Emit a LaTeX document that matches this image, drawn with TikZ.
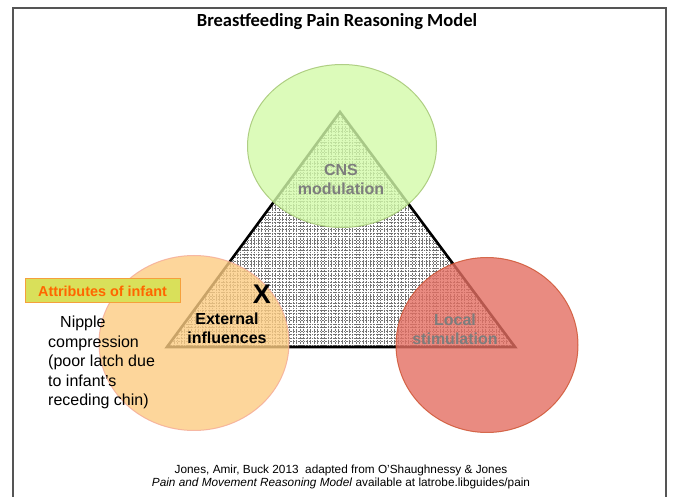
\documentclass[tikz,border=0pt]{standalone}
\usepackage{fontspec}
\setmainfont{Liberation Sans}
\newfontfamily\titlefont{Carlito}
\usetikzlibrary{shapes.geometric}
\definecolor{cnsfill}{RGB}{211,250,169}
\definecolor{cnsline}{RGB}{160,195,110}
\definecolor{extfill}{RGB}{252,204,130}
\definecolor{extline}{RGB}{245,170,150}
\definecolor{locfill}{RGB}{228,110,98}
\definecolor{locline}{RGB}{205,80,45}
\definecolor{attrfill}{RGB}{217,224,90}
\definecolor{attrline}{RGB}{245,160,60}
\definecolor{attrtext}{RGB}{255,102,0}
\definecolor{labelgray}{RGB}{125,125,125}
\definecolor{framegray}{RGB}{85,85,85}
\tikzset{
  gridline/.style={black!55, line width=0.3pt, dash pattern=on 0.6pt off 1pt},
  blob/.style={ellipse, inner sep=0pt, opacity=0.8},
  corner/.style={font=\bfseries\fontsize{16}{19}\selectfont, align=center, inner sep=0pt}
}
\begin{document}
\begin{tikzpicture}[x=1pt, y=-1pt]
            \useasboundingbox (0,0) rectangle (673,497);
            %frame and title
            \draw[framegray, line width=1.5pt] (13,497) -- (13,8) -- (666,8) -- (666,497);
            \node (title) at (337,22) {\titlefont\bfseries\fontsize{18.5}{22}\selectfont Breastfeeding Pain Reasoning Model};

            %triangle
            \coordinate (T) at (340,112);
            \coordinate (L) at (167,347);
            \coordinate (R) at (515,347);
            \fill[white] (T) -- (L) -- (R) -- cycle;
            \begin{scope}
                \clip (T) -- (L) -- (R) -- cycle;
                \foreach \gx in {160,163.5,...,522} \draw[gridline] (\gx,100) -- (\gx,352);
                \foreach \gy in {100,103.5,...,352} \draw[gridline] (160,\gy) -- (522,\gy);
            \end{scope}
            \draw[line width=2.6pt, line join=miter] (T) -- (L) -- (R) -- cycle;

            %circles
            \node[blob, fill=cnsfill, draw=cnsline, line width=1pt, minimum width=189pt, minimum height=163pt] (cns) at (342,146) {};
            \node[blob, fill=extfill, draw=extline, line width=1pt, minimum width=190pt, minimum height=175pt] (ext) at (194,343) {};
            \node[blob, fill=locfill, draw=locline, line width=1pt, minimum width=182pt, minimum height=175pt] (loc) at (487,345) {};

            %labels
            \node[corner, text=labelgray] (cnstext) at (341,179) {CNS\\modulation};
            \node[corner, text=labelgray] (loctext) at (455,329) {Local\\stimulation};
            \node[corner] (exttext) at (227,328) {External\\influences};
            \node[inner sep=0pt, font=\bfseries\fontsize{27}{30}\selectfont] (xmark) at (262,294) {X};
            \node[fill=attrfill, draw=attrline, line width=1pt, minimum width=155pt, minimum height=24pt, inner sep=0pt, text=attrtext, font=\bfseries\fontsize{14.4}{17}\selectfont] (attr) at (102.5,291) {Attributes of infant};
            \node[anchor=north west, inner sep=0pt, align=left, font=\fontsize{16}{19.5}\selectfont] (nipple) at (48,316) {\hspace{12pt}Nipple\\compression\\(poor latch due\\to infant’s\\receding chin)};

            %footer
            \node[align=center, inner sep=0pt, font=\fontsize{11.8}{13.8}\selectfont] (source) at (341,477) {Jones, Amir, Buck 2013\ \ adapted from O’Shaughnessy \& Jones\\\textit{Pain and Movement Reasoning Model} available at latrobe.libguides/pain};
    \end{tikzpicture}
\end{document}
